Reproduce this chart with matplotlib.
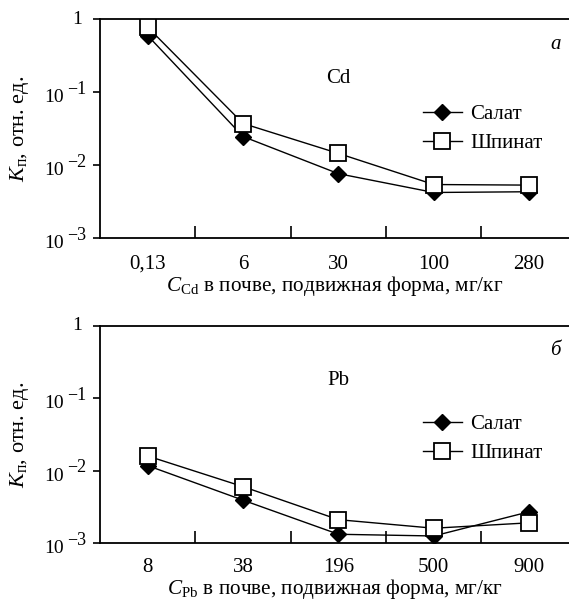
import matplotlib
matplotlib.use('Agg')
import matplotlib.pyplot as plt

plt.rcParams['font.family'] = ['Liberation Serif', 'DejaVu Serif']
plt.rcParams['mathtext.fontset'] = 'custom'
plt.rcParams['mathtext.rm'] = 'Liberation Serif'
plt.rcParams['mathtext.it'] = 'Liberation Serif:italic'

cd_labels = ['0,13', '6', '30', '100', '280']
cd_salat = [0.59, 0.0245, 0.0076, 0.0042, 0.0043]
cd_spinat = [0.77, 0.037, 0.0144, 0.0054, 0.0053]

pb_labels = ['8', '38', '196', '500', '900']
pb_salat = [0.0117, 0.0039, 0.00132, 0.00125, 0.0027]
pb_spinat = [0.0159, 0.006, 0.0021, 0.0016, 0.0019]

series_names = ['Салат', 'Шпинат']
y_ticks = [1e-3, 1e-2, 1e-1, 1]
y_exps = ['−3', '−2', '−1']

fig = plt.figure(figsize=(5.69, 6.04), dpi=100)
ax1 = fig.add_axes([0.176, 0.606, 0.826, 0.3625])
ax2 = fig.add_axes([0.176, 0.101, 0.826, 0.3595])

panels = [
    (ax1, cd_labels, cd_salat, cd_spinat, 'Cd', 'а', r'$C_{\mathrm{Cd}}$ в почве, подвижная форма, мг/кг', 0.73, 0.657, 12, 0.5),
    (ax2, pb_labels, pb_salat, pb_spinat, 'Pb', 'б', r'$C_{\mathrm{Pb}}$ в почве, подвижная форма, мг/кг', 0.75, 0.64, 11, -0.5),
]

fs = 15

for ax, labels, salat, spinat, elem, letter, xlabel, elem_y, leg_y, tpad, xpad in panels:
    x = list(range(len(labels)))
    ax.plot(x, salat, color='black', lw=1.0, marker='D', markersize=8,
            markerfacecolor='black', markeredgecolor='black', label=series_names[0], zorder=3)
    ax.plot(x, spinat, color='black', lw=1.0, marker='s', markersize=11,
            markerfacecolor='white', markeredgecolor='black', markeredgewidth=1.3,
            label=series_names[1], zorder=4)
    ax.set_yscale('log')
    ax.set_ylim(1e-3, 1)
    ax.set_xlim(-0.5, 4.43)
    ax.set_yticks(y_ticks)
    ax.set_yticklabels([])
    ax.minorticks_off()
    ax.tick_params(axis='y', direction='out', length=5, width=1.2)

    # y tick labels: 10 with a raised exponent, like the original print
    for v, e in zip(y_ticks[:3], y_exps):
        ax.annotate('10', xy=(0, v), xycoords=('axes fraction', 'data'), xytext=(-26, -4),
                    textcoords='offset points', ha='right', va='center', fontsize=14)
        ax.annotate(e, xy=(0, v), xycoords=('axes fraction', 'data'), xytext=(-10, 2),
                    textcoords='offset points', ha='right', va='center', fontsize=13)
    ax.annotate('1', xy=(0, 1), xycoords=('axes fraction', 'data'), xytext=(-13, 0),
                textcoords='offset points', ha='right', va='center', fontsize=14)

    ax.set_xticks([0.5, 1.5, 2.5, 3.5])
    ax.set_xticklabels([])
    ax.set_xticks(x, minor=True)
    ax.set_xticklabels(labels, minor=True)
    ax.tick_params(axis='x', which='major', direction='in', length=9, width=1.2)
    ax.tick_params(axis='x', which='minor', length=0, labelsize=fs, pad=tpad)
    ax.spines['right'].set_visible(False)
    for s in ['left', 'bottom', 'top']:
        ax.spines[s].set_linewidth(1.3)
    ax.set_ylabel(r'$K_{\mathrm{п}}$, отн. ед.', fontsize=16)
    ax.yaxis.set_label_coords(-0.147, 0.5)
    ax.set_xlabel(xlabel, fontsize=15.3, labelpad=xpad)
    ax.text(2.0, elem_y, elem, fontsize=fs, ha='center', va='center', transform=ax.get_xaxis_transform())
    ax.text(4.33, 0.885, letter, fontsize=fs, style='italic', ha='right', va='center',
            transform=ax.get_xaxis_transform())
    ax.legend(loc='upper left', bbox_to_anchor=(0.664, leg_y), frameon=False, fontsize=fs,
              handlelength=1.9, handletextpad=0.4, labelspacing=0.45, borderpad=0)

fig.savefig('out.png', dpi=100)
